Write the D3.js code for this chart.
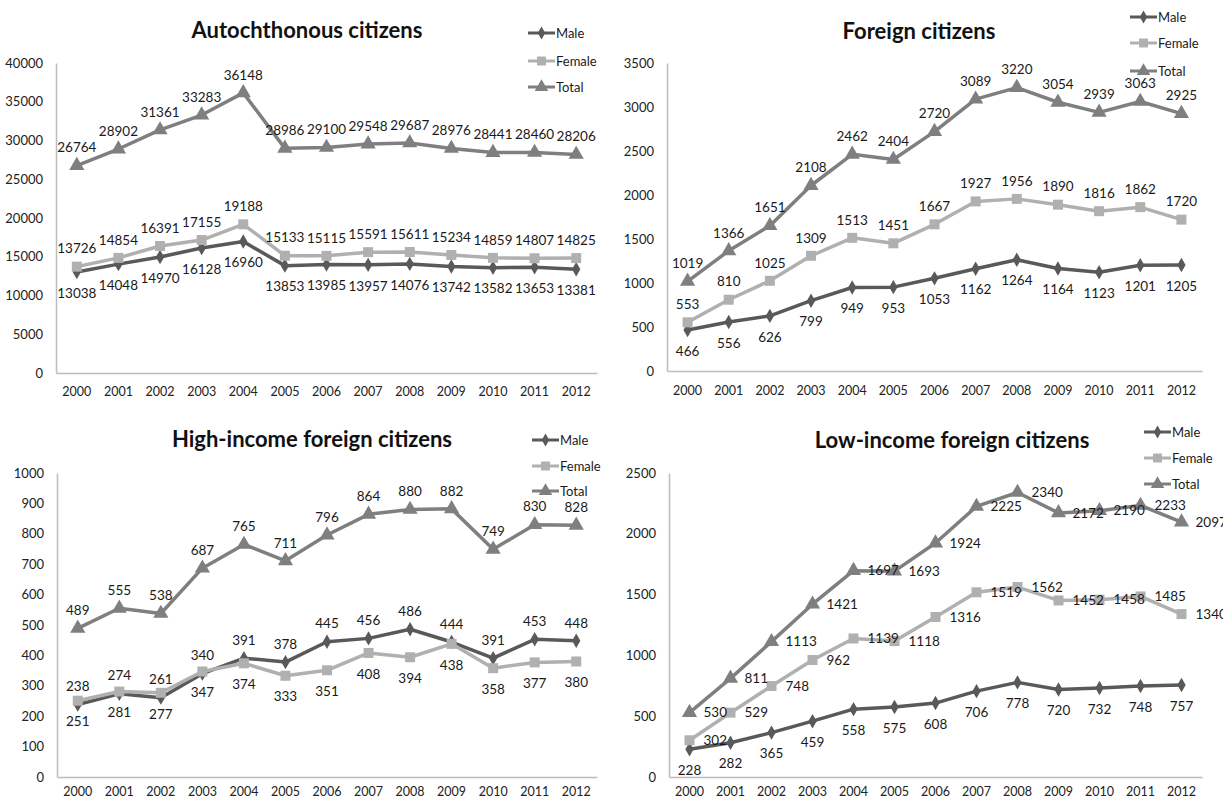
<!DOCTYPE html>
<html><head><meta charset="utf-8">
<script src="https://cdn.jsdelivr.net/npm/d3@7"></script>
<style>body{margin:0;background:#fff;} text{font-family:Lato,"Open Sans",sans-serif;}</style>
</head><body>
<svg id="c" width="1223" height="800"></svg>
<script>
const years = ["2000","2001","2002","2003","2004","2005","2006","2007","2008","2009","2010","2011","2012"];
const seriesNames = ["Male","Female","Total"];

const autoMale   = [13038,14048,14970,16128,16960,13853,13985,13957,14076,13742,13582,13653,13381];
const autoFemale = [13726,14854,16391,17155,19188,15133,15115,15591,15611,15234,14859,14807,14825];
const autoTotal  = [26764,28902,31361,33283,36148,28986,29100,29548,29687,28976,28441,28460,28206];
const autoTicks  = [0,5000,10000,15000,20000,25000,30000,35000,40000];

const forMale   = [466,556,626,799,949,953,1053,1162,1264,1164,1123,1201,1205];
const forFemale = [553,810,1025,1309,1513,1451,1667,1927,1956,1890,1816,1862,1720];
const forTotal  = [1019,1366,1651,2108,2462,2404,2720,3089,3220,3054,2939,3063,2925];
const forTicks  = [0,500,1000,1500,2000,2500,3000,3500];

const highMale   = [238,274,261,340,391,378,445,456,486,444,391,453,448];
const highFemale = [251,281,277,347,374,333,351,408,394,438,358,377,380];
const highTotal  = [489,555,538,687,765,711,796,864,880,882,749,830,828];
const highTicks  = [0,100,200,300,400,500,600,700,800,900,1000];

const lowMale   = [228,282,365,459,558,575,608,706,778,720,732,748,757];
const lowFemale = [302,529,748,962,1139,1118,1316,1519,1562,1452,1458,1485,1340];
const lowTotal  = [530,811,1113,1421,1697,1693,1924,2225,2340,2172,2190,2233,2097];
const lowTicks  = [0,500,1000,1500,2000,2500];

const colors = {Male:"#595959", Female:"#b0b0b0", Total:"#7f7f7f"};
const symbols = {Male:d3.symbolDiamond, Female:d3.symbolSquare, Total:d3.symbolTriangle};
const symSize = {Male:60, Female:100, Total:100};

const panels = [
  {title:"Autochthonous citizens", tx:307, ty:38, x0:56, x1:597, yTop:63, yBot:373, ticks:autoTicks,
   data:{Male:autoMale, Female:autoFemale, Total:autoTotal}, pos:{Male:"below",Female:"above",Total:"above"},
   legX:528, legY:[33,61,87], xLabY:396},
  {title:"Foreign citizens", tx:919, ty:39, x0:667, x1:1202, yTop:63, yBot:371, ticks:forTicks,
   data:{Male:forMale, Female:forFemale, Total:forTotal}, pos:{Male:"below",Female:"above",Total:"above"},
   legX:1130, legY:[17,43,71], xLabY:395},
  {title:"High-income foreign citizens", tx:312, ty:447, x0:57, x1:597, yTop:473, yBot:777, ticks:highTicks,
   data:{Male:highMale, Female:highFemale, Total:highTotal}, pos:{Male:"above",Female:"below",Total:"above"},
   legX:532, legY:[440,466,491], xLabY:796},
  {title:"Low-income foreign citizens", tx:952, ty:448, x0:669, x1:1202, yTop:473, yBot:777, ticks:lowTicks,
   data:{Male:lowMale, Female:lowFemale, Total:lowTotal}, pos:{Male:"below",Female:"right",Total:"right"},
   legX:1144, legY:[432,458,484], xLabY:796}
];

const svg = d3.select("#c");

panels.forEach(p => {
  const g = svg.append("g");
  const x = d3.scaleBand().domain(years).range([p.x0, p.x1]).paddingInner(0).paddingOuter(0);
  const xc = d => x(d) + x.bandwidth()/2;
  const y = d3.scaleLinear().domain([0, d3.max(p.ticks)]).range([p.yBot, p.yTop]);

  g.append("text").attr("x", p.tx).attr("y", p.ty).attr("text-anchor","middle")
    .attr("font-size", 22).attr("font-weight", "bold").attr("fill","#111").text(p.title);

  const ya = d3.axisLeft(y).tickValues(p.ticks).tickSize(0).tickPadding(13).tickFormat(d3.format("d"));
  const yg = g.append("g").attr("transform", `translate(${p.x0},0)`).call(ya);
  yg.select(".domain").attr("stroke","#bdbdbd").attr("stroke-width",1.5);
  yg.selectAll("text").attr("font-size",13).attr("fill","#222").attr("font-family","Lato,sans-serif");

  const xa = d3.axisBottom(x).tickSize(0).tickPadding(0);
  const xg = g.append("g").attr("transform", `translate(0,${p.yBot})`).call(xa);
  xg.select(".domain").attr("stroke","#bdbdbd").attr("stroke-width",1.5);
  xg.selectAll("text").attr("font-size",12.5).attr("fill","#222").attr("font-family","Lato,sans-serif")
    .attr("dy", null).attr("y", p.xLabY - p.yBot);

  seriesNames.forEach(s => {
    const vals = p.data[s];
    const pts = years.map((yr,i) => ({yr, v: vals[i]}));
    g.append("path").datum(pts)
      .attr("fill","none").attr("stroke", colors[s]).attr("stroke-width",3.5).attr("stroke-linejoin","round")
      .attr("d", d3.line().x(d => xc(d.yr)).y(d => y(d.v)));
    g.selectAll(null).data(pts).enter().append("path")
      .attr("transform", d => `translate(${xc(d.yr)},${y(d.v)})`)
      .attr("d", d3.symbol().type(symbols[s]).size(symSize[s]))
      .attr("fill", colors[s]);
  });
  seriesNames.forEach(s => {
    const vals = p.data[s];
    const pos = p.pos[s];
    g.selectAll(null).data(years.map((yr,i)=>({yr, v: vals[i]}))).enter().append("text")
      .attr("x", d => pos === "right" ? xc(d.yr) + 14 : xc(d.yr))
      .attr("y", d => y(d.v) + (pos === "above" ? -18 : pos === "below" ? 21 : 0))
      .attr("dy","0.35em")
      .attr("text-anchor", pos === "right" ? "start" : "middle")
      .attr("font-size", 13.5).attr("fill","#1a1a1a")
      .text(d => d.v);
  });

  seriesNames.forEach((s,i) => {
    const ly = p.legY[i];
    g.append("line").attr("x1", p.legX).attr("x2", p.legX + 27).attr("y1", ly).attr("y2", ly)
      .attr("stroke", colors[s]).attr("stroke-width",3);
    g.append("path").attr("transform", `translate(${p.legX + 13.5},${ly})`)
      .attr("d", d3.symbol().type(symbols[s]).size(symSize[s]*0.8)).attr("fill", colors[s]);
    g.append("text").attr("x", p.legX + 28).attr("y", ly).attr("dy","0.35em")
      .attr("font-size", 13).attr("fill","#1a1a1a").text(s);
  });
});
</script>
</body></html>
